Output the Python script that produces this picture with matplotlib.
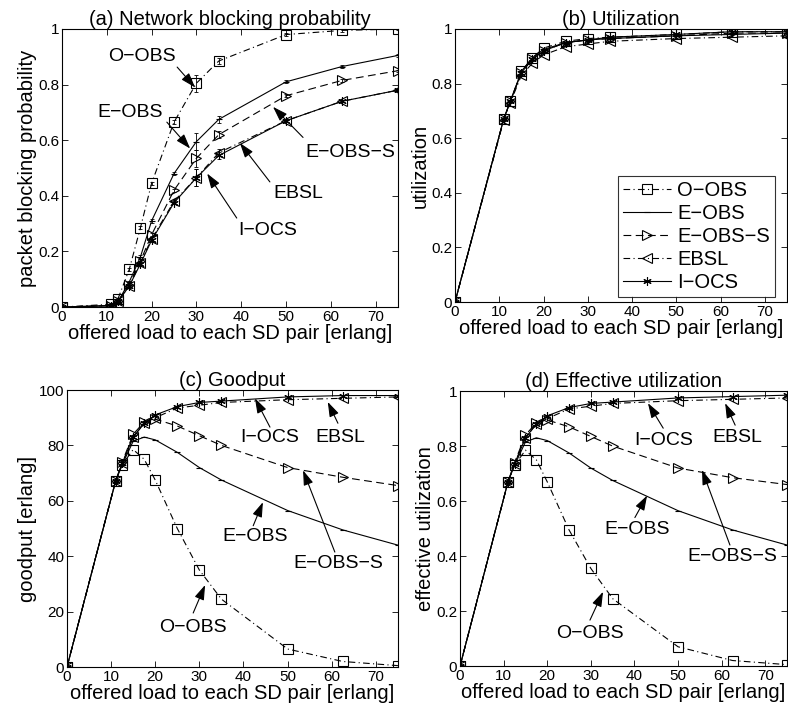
import numpy as np
import matplotlib
matplotlib.use('Agg')
import matplotlib.pyplot as plt
from matplotlib.ticker import FixedLocator, FixedFormatter

plt.rcParams['font.family'] = ['Liberation Sans', 'DejaVu Sans']

# offered load [erlang]
LOAD = [0, 11, 12.5, 15, 17.5, 20, 25, 30, 35, 50, 62.5, 75]
NAMES = ['O\u2212OBS', 'E\u2212OBS', 'E\u2212OBS\u2212S', 'EBSL', 'I\u2212OCS']

# (a) network blocking probability
block_oobs  = [0, 0.01, 0.03, 0.135, 0.285, 0.445, 0.665, 0.805, 0.885, 0.98, 0.995, 1.0]
block_eobs  = [0, 0.005, 0.02, 0.09, 0.18, 0.31, 0.48, 0.595, 0.675, 0.81, 0.865, 0.905]
block_eobss = [0, 0.005, 0.02, 0.08, 0.165, 0.26, 0.42, 0.535, 0.62, 0.76, 0.815, 0.85]
block_ebsl  = [0, 0.005, 0.02, 0.075, 0.16, 0.245, 0.38, 0.465, 0.555, 0.67, 0.74, 0.78]
block_iocs  = [0, 0.005, 0.02, 0.075, 0.155, 0.24, 0.375, 0.465, 0.545, 0.67, 0.74, 0.78]
block_err   = [0, 0.003, 0.004, 0.005, 0.006, 0.006, 0.006, 0.03, 0.012, 0.006, 0.004, 0.004]

# (b) utilization
util_oobs  = [0, 0.67, 0.735, 0.845, 0.895, 0.93, 0.955, 0.965, 0.97, 0.98, 0.99, 0.99]
util_eobs  = [0, 0.67, 0.735, 0.845, 0.895, 0.925, 0.95, 0.96, 0.965, 0.975, 0.98, 0.985]
util_eobss = [0, 0.67, 0.735, 0.84, 0.89, 0.92, 0.95, 0.96, 0.965, 0.975, 0.985, 0.985]
util_ebsl  = [0, 0.665, 0.73, 0.83, 0.875, 0.905, 0.935, 0.945, 0.955, 0.965, 0.97, 0.975]
util_iocs  = [0, 0.67, 0.735, 0.84, 0.89, 0.92, 0.95, 0.96, 0.97, 0.98, 0.99, 0.99]

# (c) goodput [erlang]
good_oobs  = [0, 67, 73, 78.5, 75, 67.5, 50, 35, 24.5, 6.5, 2, 0.5]
good_eobs  = [0, 67, 73, 81.5, 83, 82, 77.5, 72, 67.5, 56.5, 49.5, 44]
good_eobss = [0, 67, 74, 84, 88.5, 89.5, 87, 83.5, 80, 72, 68.5, 65.5]
good_ebsl  = [0, 67, 73.5, 83, 88, 90, 93.5, 94.5, 95.5, 96.5, 97, 97.5]
good_iocs  = [0, 67, 73.5, 83, 88, 91, 94, 95.5, 96, 97.5, 98, 98]

# (d) effective utilization
eff_oobs  = [0, 0.67, 0.73, 0.785, 0.75, 0.67, 0.495, 0.355, 0.245, 0.07, 0.02, 0.005]
eff_eobs  = [0, 0.67, 0.73, 0.815, 0.83, 0.82, 0.775, 0.72, 0.675, 0.565, 0.495, 0.44]
eff_eobss = [0, 0.67, 0.74, 0.84, 0.885, 0.895, 0.87, 0.835, 0.80, 0.72, 0.685, 0.66]
eff_ebsl  = [0, 0.67, 0.735, 0.83, 0.88, 0.90, 0.935, 0.945, 0.955, 0.965, 0.97, 0.975]
eff_iocs  = [0, 0.67, 0.735, 0.83, 0.88, 0.91, 0.94, 0.955, 0.96, 0.975, 0.98, 0.985]

STYLES = [
    dict(ls=(0, (6, 3, 1, 3)), marker='s', ms=6.5, mfc='none'),
    dict(ls='-', marker='_', ms=4, mfc='none'),
    dict(ls=(0, (7, 4)), marker='>', ms=6.5, mfc='none'),
    dict(ls=(0, (6, 3, 1, 3)), marker='<', ms=6.5, mfc='none'),
    dict(ls='-', marker=(6, 2, 0), ms=6, mfc='none'),
]

FS_TICK = 11
FS_LABEL = 14.5
FS_TITLE = 14.5
FS_NOTE = 14
ARROW = dict(arrowstyle='-|>,head_length=0.9,head_width=0.3', color='k', lw=0.8,
             shrinkA=0, shrinkB=0)


def setup(ax, ylabel, title, yticks, ylabels, ymax):
    ax.set_xlim(0, 75)
    ax.set_ylim(0, ymax)
    ax.xaxis.set_major_locator(FixedLocator([0, 10, 20, 30, 40, 50, 60, 70]))
    ax.yaxis.set_major_locator(FixedLocator(yticks))
    ax.yaxis.set_major_formatter(FixedFormatter(ylabels))
    ax.tick_params(direction='in', top=True, right=True, labelsize=FS_TICK,
                   length=4, width=0.6, pad=2)
    for s in ax.spines.values():
        s.set_linewidth(0.8)
    ax.set_xlabel('offered load to each SD pair [erlang]', fontsize=FS_LABEL, labelpad=0)
    ax.set_ylabel(ylabel, fontsize=FS_LABEL, labelpad=1)
    ax.set_title(title, fontsize=FS_TITLE, pad=3)


def draw(ax, series, err=None):
    for k, (y, st) in enumerate(zip(series, STYLES)):
        ax.plot(LOAD, y, color='k', lw=0.8, mec='k', mew=0.8, label=NAMES[k], **st)
        if err is not None:
            ax.errorbar(LOAD, y, yerr=err, fmt='none', ecolor='k', elinewidth=0.6,
                        capsize=1.5, capthick=0.6)


def note(ax, text, xy_text, xy_tail, xy_head):
    ax.annotate('', xy=xy_head, xytext=xy_tail, arrowprops=ARROW)
    ax.text(xy_text[0], xy_text[1], text, fontsize=FS_NOTE, ha='center', va='center')


fig = plt.figure(figsize=(7.88, 7.16), dpi=100)

ax_a = fig.add_axes([0.0787, 0.5712, 0.4264, 0.3883])
ax_b = fig.add_axes([0.5774, 0.5782, 0.4213, 0.3813])
ax_c = fig.add_axes([0.0850, 0.0684, 0.4200, 0.3869])
ax_d = fig.add_axes([0.5838, 0.0698, 0.4150, 0.3840])

util_ticks = [0, 0.2, 0.4, 0.6, 0.8, 1]
util_labels = ['0', '0.2', '0.4', '0.6', '0.8', '1']

draw(ax_a, [block_oobs, block_eobs, block_eobss, block_ebsl, block_iocs], block_err)
setup(ax_a, 'packet blocking probability', '(a) Network blocking probability',
      util_ticks, util_labels, 1)
note(ax_a, 'O\u2212OBS', (17.9, 0.90), (25.7, 0.863), (29.7, 0.79))
note(ax_a, 'E\u2212OBS', (15.2, 0.70), (23.4, 0.665), (28.6, 0.57))
note(ax_a, 'E\u2212OBS\u2212S', (64.3, 0.557), (53.8, 0.61), (47.1, 0.72))
note(ax_a, 'EBSL', (52.7, 0.41), (46.4, 0.45), (39.7, 0.59))
note(ax_a, 'I\u2212OCS', (45.8, 0.277), (39.0, 0.32), (32.4, 0.48))

draw(ax_b, [util_oobs, util_eobs, util_eobss, util_ebsl, util_iocs])
setup(ax_b, 'utilization', '(b) Utilization', util_ticks, util_labels, 1)
leg = ax_b.legend(loc='lower left', bbox_to_anchor=(0.49, 0.018, 0.474, 0.546),
                  mode='expand', fontsize=14.5, frameon=True, fancybox=False,
                  edgecolor='k', handlelength=2.4, handletextpad=0.3,
                  borderpad=0.25, labelspacing=0.2, borderaxespad=0)
leg.get_frame().set_linewidth(0.8)

draw(ax_c, [good_oobs, good_eobs, good_eobss, good_ebsl, good_iocs])
setup(ax_c, 'goodput [erlang]', '(c) Goodput', [0, 20, 40, 60, 80, 100],
      ['0', '20', '40', '60', '80', '100'], 100)
note(ax_c, 'I\u2212OCS', (46.0, 82.7), (46.0, 86.6), (42.6, 97))
note(ax_c, 'EBSL', (61.9, 83), (61.4, 88), (59.1, 95.7))
note(ax_c, 'E\u2212OBS', (42.6, 47), (42.2, 51), (44.4, 59.5))
note(ax_c, 'E\u2212OBS\u2212S', (61.4, 37.5), (60.7, 41.5), (53.5, 71))
note(ax_c, 'O\u2212OBS', (28.6, 14.4), (28.6, 19.5), (31.3, 29.6))

draw(ax_d, [eff_oobs, eff_eobs, eff_eobss, eff_ebsl, eff_iocs])
setup(ax_d, 'effective utilization', '(d) Effective utilization',
      util_ticks, util_labels, 1)
note(ax_d, 'I\u2212OCS', (46.6, 0.82), (46.6, 0.865), (43.1, 0.956))
note(ax_d, 'EBSL', (63.5, 0.83), (63.1, 0.876), (60.8, 0.956))
note(ax_d, 'E\u2212OBS', (40.6, 0.495), (40.1, 0.54), (42.9, 0.62))
note(ax_d, 'E\u2212OBS\u2212S', (62.4, 0.40), (61.9, 0.44), (55.5, 0.713))
note(ax_d, 'O\u2212OBS', (29.8, 0.12), (29.8, 0.167), (32.8, 0.27))

fig.savefig('out.png', dpi=100)
